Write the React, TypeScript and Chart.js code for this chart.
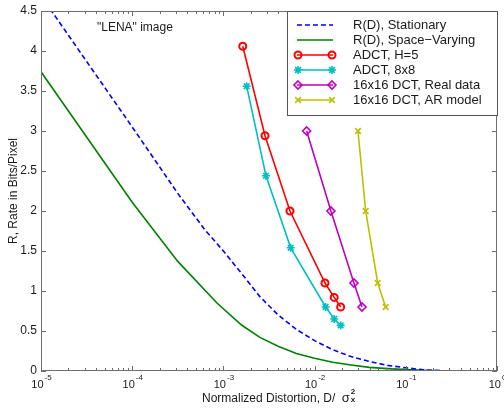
import React, { useEffect, useRef } from "react";
import { Chart, registerables } from "chart.js";

Chart.register(...registerables);

// ---- data ----
const stationaryD = [1e-5, 3.16e-5, 1e-4, 3.16e-4, 6.31e-4, 1e-3, 1.58e-3, 2.51e-3, 3.98e-3, 6.31e-3, 1e-2, 1.58e-2, 2.51e-2, 3.98e-2, 6.31e-2, 0.1, 0.158, 0.251, 0.398, 1];
const stationaryR = [4.69, 3.87, 3.05, 2.22, 1.76, 1.5, 1.22, 0.93, 0.7, 0.52, 0.38, 0.265, 0.18, 0.12, 0.07, 0.04, 0.015, 0.003, 0, 0];

const spaceVaryingD = [1e-5, 1e-4, 3.16e-4, 8.5e-4, 1.58e-3, 2.51e-3, 3.98e-3, 6.31e-3, 1e-2, 1.58e-2, 2.51e-2, 3.98e-2, 6.31e-2, 0.1, 0.158, 0.251, 1];
const spaceVaryingR = [3.74, 2.11, 1.37, 0.85, 0.575, 0.42, 0.31, 0.22, 0.16, 0.11, 0.075, 0.045, 0.03, 0.017, 0.008, 0.003, 0];

const adctH5D = [1.63e-3, 2.86e-3, 5.37e-3, 1.3e-2, 1.64e-2, 1.93e-2];
const adctH5R = [4.06, 2.94, 2.0, 1.1, 0.92, 0.8];

const adct8D = [1.8e-3, 2.93e-3, 5.47e-3, 1.32e-2, 1.64e-2, 1.93e-2];
const adct8R = [3.56, 2.44, 1.54, 0.8, 0.65, 0.57];

const dctRealD = [8.18e-3, 1.51e-2, 2.7e-2, 3.31e-2];
const dctRealR = [3.0, 2.0, 1.1, 0.8];

const dctArD = [2.99e-2, 3.63e-2, 4.92e-2, 6.01e-2];
const dctArR = [3.0, 2.0, 1.1, 0.8];

const seriesLabels = [
  "R(D), Stationary",
  "R(D), Space\u2212Varying",
  "ADCT, H=5",
  "ADCT, 8x8",
  "16x16 DCT, Real data",
  "16x16 DCT, AR model",
];
const yTicks = [0, 0.5, 1, 1.5, 2, 2.5, 3, 3.5, 4, 4.5];
const yTickLabels = ["0", "0.5", "1", "1.5", "2", "2.5", "3", "3.5", "4", "4.5"];
const xDecades = [1e-5, 1e-4, 1e-3, 1e-2, 1e-1, 1];
const xExponents = ["-5", "-4", "-3", "-2", "-1", "0"];
const annotation = "\"LENA\" image";
const xTitle = "Normalized Distortion, D/ ";
const yTitle = "R, Rate in Bits/Pixel";

const pts = (d: number[], r: number[]) => d.map((x, i) => ({ x, y: r[i] }));

const FONT = "'Liberation Sans', Arial, Helvetica, sans-serif";

function drawMarker(ctx: CanvasRenderingContext2D, style: string, x: number, y: number, r: number) {
  ctx.beginPath();
  if (style === "circle") {
    ctx.arc(x, y, r, 0, Math.PI * 2);
  } else if (style === "rectRot") {
    ctx.moveTo(x, y - r); ctx.lineTo(x + r, y); ctx.lineTo(x, y + r); ctx.lineTo(x - r, y); ctx.closePath();
  } else if (style === "star") {
    ctx.moveTo(x - r, y); ctx.lineTo(x + r, y);
    ctx.moveTo(x, y - r); ctx.lineTo(x, y + r);
    const d = r * 0.707;
    ctx.moveTo(x - d, y - d); ctx.lineTo(x + d, y + d);
    ctx.moveTo(x - d, y + d); ctx.lineTo(x + d, y - d);
  } else if (style === "crossRot") {
    const d = r * 0.707;
    ctx.moveTo(x - d, y - d); ctx.lineTo(x + d, y + d);
    ctx.moveTo(x - d, y + d); ctx.lineTo(x + d, y - d);
  }
  ctx.stroke();
}

const framePlugin = {
  id: "matlabFrame",
  afterDraw(chart: any) {
    const ctx: CanvasRenderingContext2D = chart.ctx;
    const { left, right, top, bottom } = chart.chartArea;
    const xs = chart.scales.x;
    const ys = chart.scales.y;
    ctx.save();
    // box
    ctx.strokeStyle = "#6e6e6e";
    ctx.lineWidth = 1;
    ctx.strokeRect(left + 0.5, top + 0.5, right - left - 1, bottom - top - 1);
    // y ticks
    ctx.beginPath();
    yTicks.forEach((v) => {
      const p = Math.round(ys.getPixelForValue(v)) + 0.5;
      ctx.moveTo(left, p); ctx.lineTo(left + 5, p);
      ctx.moveTo(right, p); ctx.lineTo(right - 5, p);
    });
    // x ticks, major and minor
    xDecades.forEach((dv, i) => {
      const p = Math.round(xs.getPixelForValue(dv)) + 0.5;
      ctx.moveTo(p, bottom); ctx.lineTo(p, bottom - 5);
      ctx.moveTo(p, top); ctx.lineTo(p, top + 5);
      if (i < xDecades.length - 1) {
        for (let m = 2; m <= 9; m++) {
          const q = Math.round(xs.getPixelForValue(dv * m)) + 0.5;
          ctx.moveTo(q, bottom); ctx.lineTo(q, bottom - 3);
          ctx.moveTo(q, top); ctx.lineTo(q, top + 3);
        }
      }
    });
    ctx.stroke();

    // y tick labels
    ctx.fillStyle = "#1a1a1a";
    ctx.font = `12px ${FONT}`;
    ctx.textAlign = "right";
    ctx.textBaseline = "middle";
    yTicks.forEach((v, i) => {
      ctx.fillText(yTickLabels[i], left - 4, ys.getPixelForValue(v));
    });
    // x tick labels with superscripts
    ctx.textBaseline = "alphabetic";
    ctx.textAlign = "left";
    xDecades.forEach((dv, i) => {
      const p = xs.getPixelForValue(dv);
      ctx.font = `11px ${FONT}`;
      const w1 = ctx.measureText("10").width;
      ctx.font = `8px ${FONT}`;
      const w2 = ctx.measureText(xExponents[i]).width;
      const x0 = p - (w1 + w2) / 2;
      ctx.font = `11px ${FONT}`;
      ctx.fillText("10", x0, bottom + 17);
      ctx.font = `8px ${FONT}`;
      ctx.fillText(xExponents[i], x0 + w1 + 1, bottom + 9);
    });
    // x title
    ctx.font = `12px ${FONT}`;
    ctx.textAlign = "left";
    const tx = 202;
    const ty = 402;
    ctx.fillText(xTitle, tx, ty);
    const tw = ctx.measureText(xTitle).width;
    ctx.font = `13px ${FONT}`;
    ctx.fillText("\u03c3", tx + tw + 3, ty);
    const sw = ctx.measureText("\u03c3").width;
    ctx.font = `bold 8px ${FONT}`;
    ctx.fillText("2", tx + tw + 4 + sw, ty - 8);
    ctx.fillText("x", tx + tw + 4 + sw, ty);
    // y title
    ctx.save();
    ctx.translate(14, (top + bottom) / 2);
    ctx.rotate(-Math.PI / 2);
    ctx.font = `12px ${FONT}`;
    ctx.textAlign = "center";
    ctx.textBaseline = "middle";
    ctx.fillText(yTitle, 0, 0);
    ctx.restore();
    // annotation
    ctx.font = `12px ${FONT}`;
    ctx.textAlign = "left";
    ctx.textBaseline = "middle";
    ctx.fillText(annotation, 97, 28);

    // legend
    const lx = 287, ly = 11, lw = 210, lh = 104;
    ctx.fillStyle = "#ffffff";
    ctx.fillRect(lx, ly, lw, lh);
    ctx.strokeStyle = "#555555";
    ctx.lineWidth = 1;
    ctx.strokeRect(lx + 0.5, ly + 0.5, lw, lh);
    const dsets = chart.data.datasets;
    dsets.forEach((ds: any, i: number) => {
      const yy = 25 + i * 15;
      ctx.save();
      ctx.strokeStyle = ds.borderColor;
      ctx.lineWidth = ds.borderWidth;
      ctx.setLineDash(ds.borderDash || []);
      ctx.beginPath();
      ctx.moveTo(297, yy);
      ctx.lineTo(333, yy);
      ctx.stroke();
      ctx.setLineDash([]);
      if (ds.pointRadius > 0) {
        ctx.lineWidth = ds.pointBorderWidth;
        ctx.strokeStyle = ds.pointBorderColor || ds.borderColor;
        drawMarker(ctx, ds.pointStyle, 298, yy, ds.pointRadius);
        drawMarker(ctx, ds.pointStyle, 332, yy, ds.pointRadius);
      }
      ctx.restore();
      ctx.fillStyle = "#1a1a1a";
      ctx.font = `13px ${FONT}`;
      ctx.textAlign = "left";
      ctx.textBaseline = "middle";
      ctx.fillText(ds.label, 353, yy + 0.5);
    });
    ctx.restore();
  },
};

export default function App() {
  const ref = useRef<HTMLCanvasElement | null>(null);
  useEffect(() => {
    document.body.style.margin = "0";
    const canvas = ref.current!;
    const chart = new Chart(canvas, {
      type: "line",
      data: {
        datasets: [
          {
            label: seriesLabels[0], data: pts(stationaryD, stationaryR),
            borderColor: "#0000ff", borderWidth: 1.6, borderDash: [5, 3], pointRadius: 0, tension: 0,
          },
          {
            label: seriesLabels[1], data: pts(spaceVaryingD, spaceVaryingR),
            borderColor: "#008000", borderWidth: 1.6, pointRadius: 0, tension: 0,
          },
          {
            label: seriesLabels[2], data: pts(adctH5D, adctH5R),
            borderColor: "#ff0000", borderWidth: 1.6, pointStyle: "circle", pointRadius: 3.5,
            pointBorderWidth: 2, pointBackgroundColor: "rgba(255,255,255,0)", pointBorderColor: "#ff0000",
          },
          {
            label: seriesLabels[3], data: pts(adct8D, adct8R),
            borderColor: "#00bfbf", borderWidth: 1.6, pointStyle: "star", pointRadius: 4,
            pointBorderWidth: 1.6, pointBackgroundColor: "#00bfbf", pointBorderColor: "#00bfbf",
          },
          {
            label: seriesLabels[4], data: pts(dctRealD, dctRealR),
            borderColor: "#bf00bf", borderWidth: 1.6, pointStyle: "rectRot", pointRadius: 4,
            pointBorderWidth: 1.6, pointBackgroundColor: "rgba(255,255,255,0)", pointBorderColor: "#bf00bf",
          },
          {
            label: seriesLabels[5], data: pts(dctArD, dctArR),
            borderColor: "#bfbf00", borderWidth: 1.6, pointStyle: "crossRot", pointRadius: 4,
            pointBorderWidth: 1.6, pointBackgroundColor: "#bfbf00", pointBorderColor: "#bfbf00",
          },
        ],
      },
      options: {
        animation: false,
        responsive: false,
        maintainAspectRatio: false,
        layout: { padding: { left: 41, right: 7, top: 11, bottom: 39 } },
        scales: {
          x: { type: "logarithmic", min: 1e-5, max: 1, display: false },
          y: { type: "linear", min: 0, max: 4.5, display: false },
        },
        plugins: { legend: { display: false }, tooltip: { enabled: false } },
        elements: { line: { fill: false } },
      },
      plugins: [framePlugin],
    } as any);
    return () => chart.destroy();
  }, []);
  return (
    <div style={{ width: 504, height: 410 }}>
      <canvas ref={ref} width={504} height={410} style={{ display: "block" }} />
    </div>
  );
}
